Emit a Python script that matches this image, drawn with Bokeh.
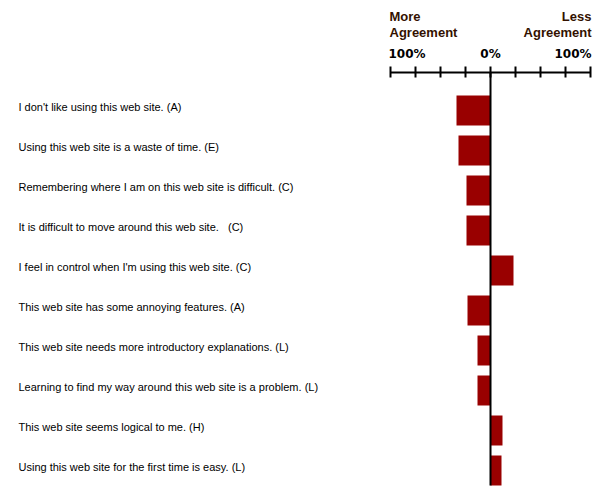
from bokeh.plotting import figure
from bokeh.layouts import column
from bokeh.models import Range1d, FixedTicker, ColumnDataSource
from bokeh.core.properties import value
from bokeh.embed import file_html
from bokeh.resources import INLINE

categories = [
    "I don't like using this web site. (A)",
    "Using this web site is a waste of time. (E)",
    "Remembering where I am on this web site is difficult. (C)",
    "It is difficult to move around this web site.\u00a0\u00a0 (C)",
    "I feel in control when I'm using this web site. (C)",
    "This web site has some annoying features. (A)",
    "This web site needs more introductory explanations. (L)",
    "Learning to find my way around this web site is a problem. (L)",
    "This web site seems logical to me. (H)",
    "Using this web site for the first time is easy. (L)",
]
values = [-34, -32, -24, -24, 23, -23, -13, -13, 12, 11]
tick_values = [-100, -75, -50, -25, 0, 25, 50, 75, 100]
tick_labels = ["100%", "0%", "100%"]
header_left = ["More", "Agreement"]
header_right = ["Less", "Agreement"]

rows = list(range(len(categories)))
bar_h = 0.75
xr = (-490, 110)

# ---- header figure (texts above the axis) ----
h = figure(width=600, height=62, output_backend="svg", toolbar_location=None,
           x_range=Range1d(*xr), y_range=Range1d(62, 0),
           x_axis_location=None, y_axis_location=None,
           min_border_left=0, min_border_right=0, min_border_bottom=0, min_border_top=0)
h.outline_line_color = None
h.xgrid.visible = False
h.ygrid.visible = False

hdr_color = "#331100"
hsrc = ColumnDataSource(dict(
    x=[tick_values[0] - 1] * 2 + [tick_values[-1] + 1] * 2,
    y=[16, 31.5, 16, 31.5],
    t=header_left + header_right,
    a=["left", "left", "right", "right"]))
h.text(x="x", y="y", text="t", source=hsrc, text_align="a", text_baseline="alphabetic",
       text_font=value("Liberation Sans"), text_font_style="bold",
       text_font_size="13px", text_color=hdr_color)

tsrc = ColumnDataSource(dict(
    x=[tick_values[0] - 2, tick_values[4], tick_values[-1] + 1],
    y=[53, 53, 53], t=tick_labels, a=["left", "center", "right"]))
h.text(x="x", y="y", text="t", source=tsrc, text_align="a", text_baseline="alphabetic",
       text_font=value("DejaVu Sans"), text_font_style="bold",
       text_font_size="12px", text_color="black")

# ---- main figure ----
p = figure(width=600, height=438, output_backend="svg", toolbar_location=None,
           x_range=Range1d(*xr), y_range=Range1d(9.75, -0.95),
           x_axis_location="above", y_axis_location=None,
           min_border_left=0, min_border_right=0, min_border_bottom=0, min_border_top=10)
p.outline_line_color = None
p.xgrid.visible = False
p.ygrid.visible = False

ax = p.xaxis[0]
ax.ticker = FixedTicker(ticks=tick_values)
ax.bounds = (-100, 100)
ax.axis_line_width = 2
ax.axis_line_color = "black"
ax.major_tick_line_width = 2
ax.major_tick_line_color = "black"
ax.major_tick_out = 6
ax.major_tick_in = 5
ax.minor_tick_line_color = None
ax.major_label_standoff = 0
ax.major_label_overrides = {t: "" for t in tick_values}

src = ColumnDataSource(dict(y=rows, v=values, cat=categories,
                            x=[-472] * len(rows), ty=[r - 0.08 for r in rows]))
p.hbar(y="y", left=0, right="v", height=bar_h, source=src,
       fill_color="#990000", line_color=None)
p.segment(x0=[0], y0=[-0.95], x1=[0], y1=[rows[-1] + bar_h / 2],
          line_color="black", line_width=2)

p.text(x="x", y="ty", text="cat", source=src, text_font=value("Liberation Sans"),
       text_font_size="11px", text_color="black", text_align="left",
       text_baseline="alphabetic")

layout = column(h, p, spacing=0)
open("out.html", "w").write(file_html(layout, INLINE))
